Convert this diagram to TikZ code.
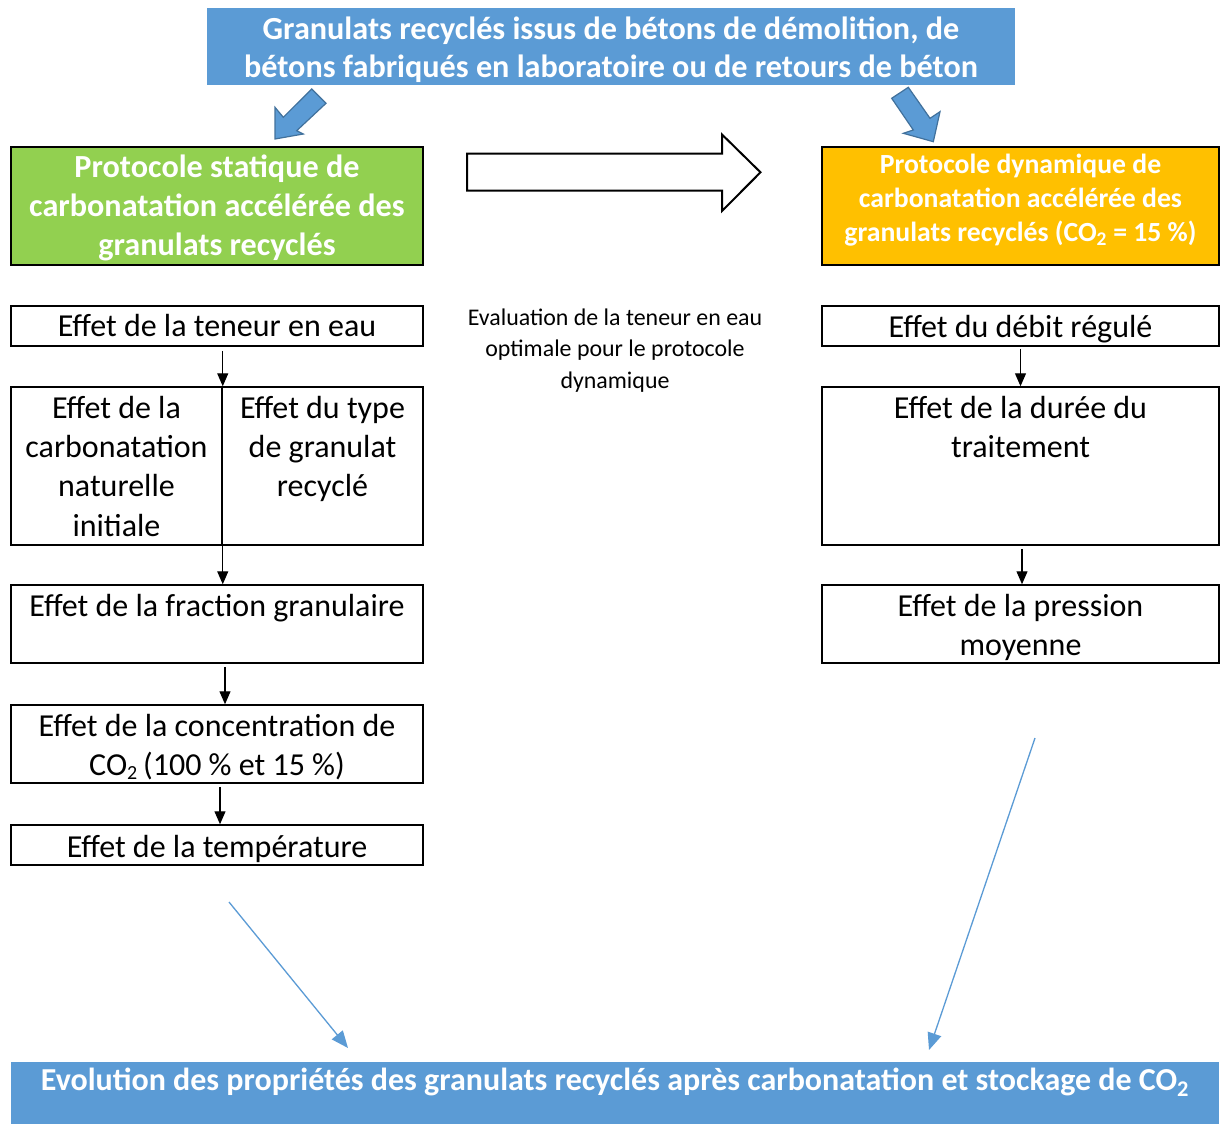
\documentclass[tikz,border=0pt]{standalone}
\usepackage{fontspec}
\setmainfont{Carlito}
\usetikzlibrary{arrows.meta}
\definecolor{blueA}{HTML}{5B9BD5}
\definecolor{blueB}{HTML}{41719C}
\definecolor{greenA}{HTML}{92D050}
\definecolor{orangeA}{HTML}{FFC000}
\newcommand\tbox[4]{\parbox[c][#1][t]{#2}{\centering\vspace*{#3}\strut #4\par}}
\newcommand\subtwo{\textsubscript{\raisebox{-0.5pt}{\fontsize{20}{20}\selectfont 2}}}
\tikzset{
  effbox/.style={draw=black, line width=1.5pt, fill=white, inner sep=0pt,
    font=\fontsize{32}{39.3}\selectfont},
  titlebox/.style={fill=blueA, inner sep=0pt, text=white,
    font=\fontsize{32.2}{38.5}\selectfont\bfseries},
  protobox/.style={draw=black, line width=1.5pt, inner sep=0pt, text=white},
  arr/.style={draw=black, line width=1.2pt, -{Triangle[length=13pt,width=11pt]}},
  bluearr/.style={draw=blueA, line width=1.3pt, -{Triangle[length=17pt,width=14pt]}},
  fatblue/.style={fill=blueA, draw=blueB, line width=1.2pt},
  hollow/.style={draw=black, fill=white, line width=2pt},
}
\begin{document}
\begin{tikzpicture}[x=1pt,y=-1pt]
\useasboundingbox (0,0) rectangle (1220,1124);
\fill[white] (0,0) rectangle (1220,1124);

% top title box
\node[titlebox, minimum width=808pt, minimum height=77pt] (top) at (611,46.5)
  {\tbox{77pt}{808pt}{4.5pt}{Granulats recyclés issus de bétons de démolition, de\\bétons fabriqués en laboratoire ou de retours de béton}};

% fat blue arrows
\draw[fatblue] (311.7,89) -- (326,103.3) -- (296.7,130.7) -- (303.3,134) -- (275,139)
  -- (275,107.3) -- (283.3,117.3) -- cycle;
\draw[fatblue] (891.7,98.3) -- (908.3,87.3) -- (930,118.3) -- (940,111.7) -- (933.3,141.7)
  -- (903.3,133.3) -- (913.3,130) -- cycle;

% protocol boxes
\node[protobox, fill=greenA, minimum width=412pt, minimum height=118pt,
  font=\fontsize{32.2}{39}\selectfont\bfseries] (green) at (217,206)
  {\tbox{118pt}{412pt}{3.5pt}{Protocole statique de\\carbonatation accélérée des\\granulats recyclés}};
\node[protobox, fill=orangeA, minimum width=397pt, minimum height=118pt,
  font=\fontsize{27.7}{34}\selectfont\bfseries] (orange) at (1020.5,206)
  {\tbox{118pt}{397pt}{2.4pt}{Protocole dynamique de\\carbonatation accélérée des\\granulats recyclés (CO\textsubscript{2} = 15~\%)}};

% hollow arrow
\draw[hollow] (467,153.5) -- (722,153.5) -- (722,134.5) -- (760.5,172.3) -- (722,211)
  -- (722,190.5) -- (467,190.5) -- cycle;

% evaluation text
\node[align=center, inner sep=0pt, font=\fontsize{23.9}{31.5}\selectfont] (eval) at (615,350.5)
  {Evaluation de la teneur en eau\\optimale pour le protocole\\dynamique};

% left column
\node[effbox, minimum width=412pt, minimum height=40pt] (L1) at (217,326)
  {\tbox{40pt}{412pt}{3pt}{Effet de la teneur en eau}};
\node[effbox, minimum width=211pt, minimum height=158pt] (L2a) at (116.5,466)
  {\tbox{158pt}{211pt}{3.7pt}{Effet de la\\carbonatation\\naturelle\\initiale}};
\node[effbox, minimum width=201pt, minimum height=158pt] (L2b) at (322.5,466)
  {\tbox{158pt}{201pt}{3.7pt}{Effet du type\\de granulat\\recyclé}};
\node[effbox, minimum width=412pt, minimum height=78pt] (L3) at (217,624)
  {\tbox{78pt}{412pt}{3.7pt}{Effet de la fraction granulaire}};
\node[effbox, minimum width=412pt, minimum height=78pt] (L4) at (217,744)
  {\tbox{78pt}{412pt}{3.7pt}{Effet de la concentration de\\CO\subtwo\,(100~\% et 15~\%)}};
\node[effbox, minimum width=412pt, minimum height=40pt] (L5) at (217,845)
  {\tbox{40pt}{412pt}{4.5pt}{Effet de la température}};

% right column
\node[effbox, minimum width=397pt, minimum height=40pt] (R1) at (1020.5,326)
  {\tbox{40pt}{397pt}{3.7pt}{Effet du débit régulé}};
\node[effbox, minimum width=397pt, minimum height=158pt] (R2) at (1020.5,466)
  {\tbox{158pt}{397pt}{3.7pt}{Effet de la durée du\\traitement}};
\node[effbox, minimum width=397pt, minimum height=78pt] (R3) at (1020.5,624)
  {\tbox{78pt}{397pt}{3.7pt}{Effet de la pression\\moyenne}};

% bottom box
\node[titlebox, minimum width=1208pt, minimum height=62pt, font=\fontsize{32}{36}\selectfont\bfseries] (bot) at (615,1093)
  {\tbox{62pt}{1208pt}{3.5pt}{Evolution des propriétés des granulats recyclés après carbonatation et stockage de CO\textsubscript{2}}};

% black arrows
\draw[arr, shorten <=4pt] (L1.south -| L2a.east) -- (L2a.north east);
\draw[arr] (L2a.south east) -- (L3.north -| L2a.east);
\draw[arr, shorten <=3pt] ([xshift=8pt]L3.south) -- ([xshift=8pt]L4.north);
\draw[arr, shorten <=3pt] ([xshift=3pt]L4.south) -- ([xshift=3pt]L5.north);
\draw[arr, shorten <=2pt] (R1.south) -- (R2.north);
\draw[arr, shorten <=3pt] ([xshift=1.5pt]R2.south) -- ([xshift=1.5pt]R3.north);

% thin blue arrows
\coordinate (s1) at (229,902);
\coordinate (e1) at (348,1048);
\coordinate (s2) at (1035,738);
\coordinate (e2) at (929,1050);
\draw[bluearr] (s1) -- (e1);
\draw[bluearr] (s2) -- (e2);
\end{tikzpicture}
\end{document}
